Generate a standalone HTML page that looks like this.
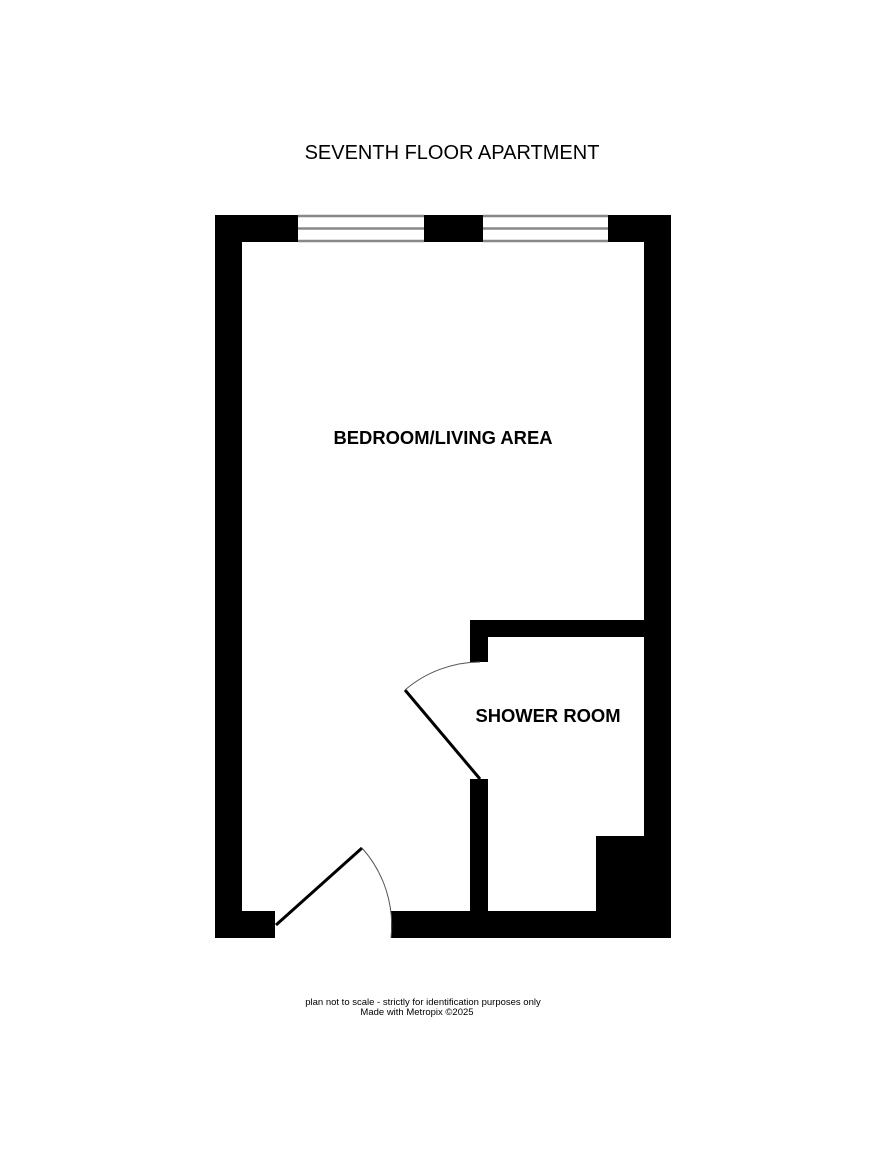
<!DOCTYPE html>
<html><head><style>body{margin:0;background:#fff}</style></head><body>
<svg width="886" height="1153" xmlns="http://www.w3.org/2000/svg" style="display:block">
<rect width="886" height="1153" fill="#fff"/>
<text x="452" y="159" text-anchor="middle" font-family="Liberation Sans, sans-serif" font-size="20">SEVENTH FLOOR APARTMENT</text>
<g fill="#000">
<rect x="215" y="215" width="27" height="723"/>
<rect x="644" y="215" width="27" height="723"/>
<rect x="215" y="215" width="83" height="27"/>
<rect x="424" y="215" width="59" height="27"/>
<rect x="608" y="215" width="63" height="27"/>
<rect x="215" y="911" width="60" height="27"/>
<rect x="391" y="911" width="280" height="27"/>
<rect x="470" y="620" width="201" height="17"/>
<rect x="470" y="620" width="18" height="42"/>
<rect x="470" y="779" width="18" height="159"/>
<rect x="596" y="836" width="48" height="75"/>
</g>
<g stroke="#888" stroke-width="2.5">
<line x1="298" y1="216" x2="424" y2="216"/><line x1="298" y1="228.5" x2="424" y2="228.5"/><line x1="298" y1="241" x2="424" y2="241"/>
<line x1="483" y1="216" x2="608" y2="216"/><line x1="483" y1="228.5" x2="608" y2="228.5"/><line x1="483" y1="241" x2="608" y2="241"/>
</g>
<line x1="276" y1="925" x2="362" y2="848" stroke="#000" stroke-width="3"/>
<path d="M362 848 A116 116 0 0 1 391 938" fill="none" stroke="#555" stroke-width="1"/>
<line x1="480" y1="779" x2="405" y2="690" stroke="#000" stroke-width="3"/>
<path d="M405 690 A116 116 0 0 1 480 662" fill="none" stroke="#555" stroke-width="1"/>
<g font-family="Liberation Sans, sans-serif" font-weight="bold" font-size="18.4" text-anchor="middle">
<text x="443" y="444">BEDROOM/LIVING AREA</text>
<text x="548" y="722">SHOWER ROOM</text>
</g>
<g font-family="Liberation Sans, sans-serif" font-size="9.5" text-anchor="middle">
<text x="423" y="1005">plan not to scale - strictly for identification purposes only</text>
<text x="417" y="1015">Made with Metropix ©2025</text>
</g>
</svg>
</body></html>
